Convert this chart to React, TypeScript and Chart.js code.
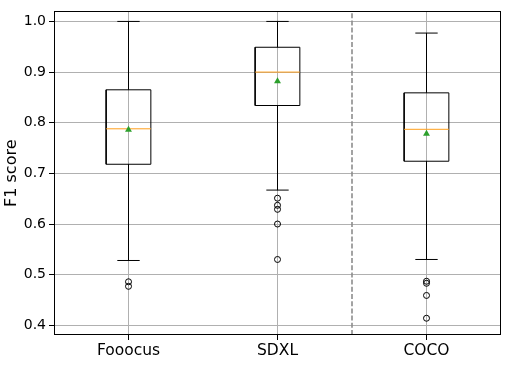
import React, { useEffect, useRef } from 'react';
import { Chart, registerables } from 'chart.js';

Chart.register(...registerables);

const categories = ['Fooocus', 'SDXL', 'COCO'];
const positions = [1, 2, 3];
const q1Values = [0.718, 0.834, 0.724];
const q3Values = [0.865, 0.949, 0.859];
const medianValues = [0.788, 0.9, 0.787];
const meanValues = [0.786, 0.882, 0.778];
const whiskerLow = [0.528, 0.667, 0.53];
const whiskerHigh = [1.0, 1.0, 0.977];
const fooocusOutliers = [0.486, 0.477];
const sdxlOutliers = [0.651, 0.637, 0.629, 0.6, 0.53];
const cocoOutliers = [0.487, 0.483, 0.459, 0.414];
const outlierGroups = [fooocusOutliers, sdxlOutliers, cocoOutliers];
const yTicks = [0.4, 0.5, 0.6, 0.7, 0.8, 0.9, 1.0];
const separatorX = 2.5;
const yMin = 0.3809;
const yMax = 1.0198;

const BOX_HALF = 0.15;
const CAP_HALF = 0.075;
const FONT = "'DejaVu Sans', sans-serif";

type Pt = { x: number; y: number | null };

function buildBoxes(): Pt[] {
  const out: Pt[] = [];
  positions.forEach((p, i) => {
    out.push(
      { x: p - BOX_HALF, y: q1Values[i] },
      { x: p + BOX_HALF, y: q1Values[i] },
      { x: p + BOX_HALF, y: q3Values[i] },
      { x: p - BOX_HALF, y: q3Values[i] },
      { x: p - BOX_HALF, y: q1Values[i] },
      { x: p, y: null }
    );
  });
  return out;
}

function buildWhiskers(): Pt[] {
  const out: Pt[] = [];
  positions.forEach((p, i) => {
    out.push({ x: p, y: q1Values[i] }, { x: p, y: whiskerLow[i] }, { x: p, y: null });
    out.push({ x: p, y: q3Values[i] }, { x: p, y: whiskerHigh[i] }, { x: p, y: null });
  });
  return out;
}

function buildCaps(): Pt[] {
  const out: Pt[] = [];
  positions.forEach((p, i) => {
    out.push({ x: p - CAP_HALF, y: whiskerLow[i] }, { x: p + CAP_HALF, y: whiskerLow[i] }, { x: p, y: null });
    out.push({ x: p - CAP_HALF, y: whiskerHigh[i] }, { x: p + CAP_HALF, y: whiskerHigh[i] }, { x: p, y: null });
  });
  return out;
}

function buildMedians(): Pt[] {
  const out: Pt[] = [];
  positions.forEach((p, i) => {
    out.push({ x: p - BOX_HALF, y: medianValues[i] }, { x: p + BOX_HALF, y: medianValues[i] }, { x: p, y: null });
  });
  return out;
}

const framePlugin = {
  id: 'frame',
  afterDraw(chart: any) {
    const { ctx, chartArea } = chart;
    ctx.save();
    ctx.strokeStyle = '#000';
    ctx.lineWidth = 1;
    const l = Math.round(chartArea.left) + 0.5;
    const t = Math.round(chartArea.top) + 0.5;
    const r = Math.round(chartArea.right) - 0.5;
    const b = Math.round(chartArea.bottom) - 0.5;
    ctx.strokeRect(l, t, r - l, b - t);
    ctx.restore();
  },
};

export default function App() {
  const ref = useRef<HTMLCanvasElement | null>(null);
  useEffect(() => {
    document.body.style.margin = '0';
    if (!ref.current) return;
    const lineBase = { type: 'line' as const, pointRadius: 0, borderWidth: 1, fill: false, spanGaps: false, tension: 0 };
    const chart = new Chart(ref.current, {
      type: 'scatter',
      data: {
        datasets: [
          { ...lineBase, label: 'separator', data: [{ x: separatorX, y: yMin }, { x: separatorX, y: yMax }], borderColor: '#8c8c8c', borderWidth: 1.6, borderDash: [5, 2.2], order: 6 },
          { ...lineBase, label: 'boxes', data: buildBoxes(), borderColor: '#000', borderJoinStyle: 'miter', order: 5 },
          { ...lineBase, label: 'whiskers', data: buildWhiskers(), borderColor: '#000', order: 4 },
          { ...lineBase, label: 'caps', data: buildCaps(), borderColor: '#000', order: 3 },
          { ...lineBase, label: 'medians', data: buildMedians(), borderColor: '#ff9f1c', order: 2 },
          {
            label: 'outliers',
            data: outlierGroups.flatMap((g, i) => g.map((v) => ({ x: positions[i], y: v }))),
            pointStyle: 'circle',
            pointRadius: 3,
            backgroundColor: 'rgba(0,0,0,0)',
            borderColor: '#000',
            borderWidth: 1,
            order: 1,
          },
          {
            label: 'means',
            data: meanValues.map((v, i) => ({ x: positions[i], y: v })),
            pointStyle: 'triangle',
            pointRadius: 4,
            backgroundColor: '#2ca02c',
            borderColor: '#2ca02c',
            borderWidth: 0,
            order: 0,
          },
        ] as any,
      },
      options: {
        animation: false,
        responsive: false,
        events: [],
        layout: { padding: { top: 9, right: 10, left: 0, bottom: 0 } },
        plugins: { legend: { display: false }, tooltip: { enabled: false } },
        scales: {
          x: {
            type: 'linear',
            min: 0.5,
            max: 3.5,
            afterBuildTicks: (s: any) => {
              s.ticks = positions.map((v) => ({ value: v }));
            },
            afterFit: (s: any) => {
              s.height = 31;
            },
            ticks: {
              autoSkip: false,
              maxRotation: 0,
              padding: 2,
              color: '#000',
              font: { family: FONT, size: 15.5 },
              callback: (v: any) => categories[positions.indexOf(Number(v))] ?? '',
            },
            grid: { color: '#b0b0b0', lineWidth: 1, tickColor: '#000', tickLength: 5, tickWidth: 1 },
            border: { display: false },
          },
          y: {
            type: 'linear',
            min: yMin,
            max: yMax,
            afterBuildTicks: (s: any) => {
              s.ticks = yTicks.map((v) => ({ value: v }));
            },
            afterFit: (s: any) => {
              s.width = 54;
            },
            ticks: {
              padding: 3,
              color: '#000',
              font: { family: FONT, size: 14 },
              callback: (v: any) => Number(v).toFixed(1),
            },
            title: {
              display: true,
              text: 'F1 score',
              color: '#000',
              font: { family: FONT, size: 16 },
              padding: { top: 2, bottom: 0 },
            },
            grid: { color: '#b0b0b0', lineWidth: 1, tickColor: '#000', tickLength: 5, tickWidth: 1 },
            border: { display: false },
          },
        },
      } as any,
      plugins: [framePlugin],
    });
    return () => chart.destroy();
  }, []);
  return <canvas ref={ref} width={511} height={366} style={{ display: 'block', width: 511, height: 366 }} />;
}
